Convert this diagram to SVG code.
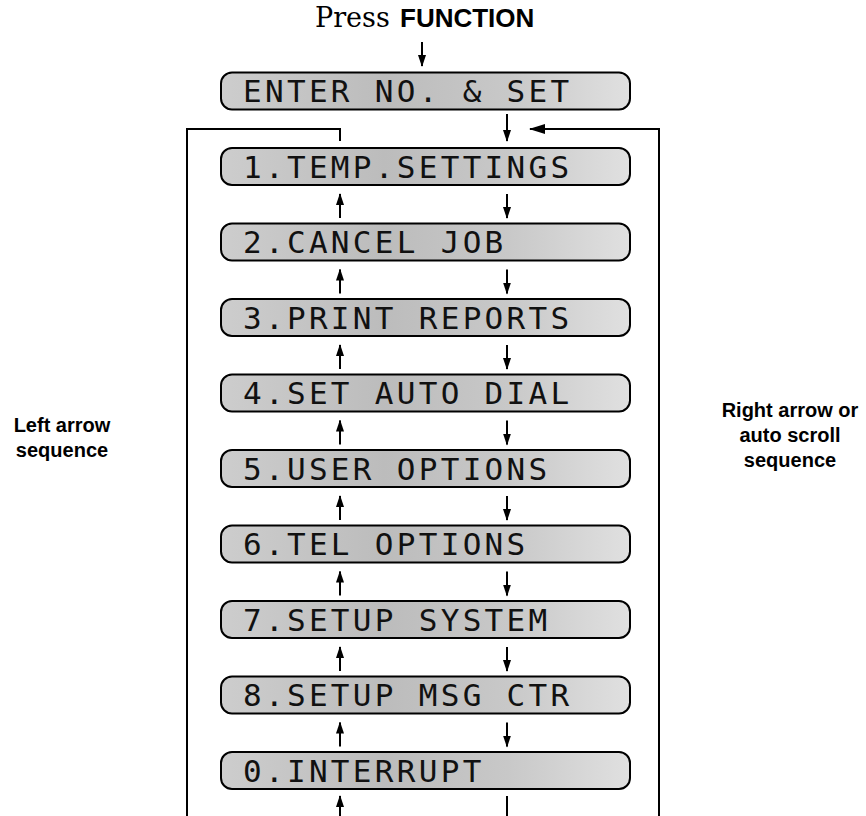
<svg xmlns="http://www.w3.org/2000/svg" width="866" height="816" viewBox="0 0 866 816">
<defs>
<linearGradient id="lcd" x1="0" y1="0" x2="1" y2="0">
<stop offset="0" stop-color="#cdcdcd"/>
<stop offset="0.4" stop-color="#bcbcbc"/>
<stop offset="0.7" stop-color="#c8c8c8"/>
<stop offset="1" stop-color="#e0e0e0"/>
</linearGradient>
<marker id="ah" viewBox="0 0 12 8" refX="11" refY="4" markerWidth="12" markerHeight="8" markerUnits="userSpaceOnUse" orient="auto"><path d="M0,0 L12,4 L0,8 z" fill="#000"/></marker>
<marker id="ahb" viewBox="0 0 16 10" refX="15" refY="5" markerWidth="16" markerHeight="10" markerUnits="userSpaceOnUse" orient="auto"><path d="M0,0 L16,5 L0,10 z" fill="#000"/></marker>
</defs>
<style>
.box{fill:url(#lcd);stroke:#000;stroke-width:2}
.lcd{font-family:"DejaVu Sans Mono","Liberation Mono",monospace;font-size:31px;letter-spacing:3.3px;fill:#111}
.lbl{font-family:"Liberation Sans",Arial,sans-serif;font-size:20px;font-weight:bold;fill:#000;text-anchor:middle}
.ln{fill:none;stroke:#000;stroke-width:2}
.arr{fill:none;stroke:#000;stroke-width:2;marker-end:url(#ah)}
</style>
<g id="title">
<text x="315" y="27" font-family="'DejaVu Serif','Liberation Serif',serif" font-size="27">Press</text>
<text x="400" y="27" font-family="'Liberation Sans',Arial,sans-serif" font-size="26" font-weight="bold">FUNCTION</text>
</g>
<g id="label-left">
<text class="lbl" x="62" y="432">Left arrow</text>
<text class="lbl" x="62" y="457">sequence</text>
</g>
<g id="label-right">
<text class="lbl" x="790" y="417">Right arrow or</text>
<text class="lbl" x="790" y="442">auto scroll</text>
<text class="lbl" x="790" y="467">sequence</text>
</g>
<g id="n-enter"><rect class="box" x="221" y="72.5" width="409" height="37" rx="11"/><text class="lcd" x="243" y="102">ENTER NO. &amp; SET</text></g>
<g id="n1"><rect class="box" x="221" y="148" width="409" height="37" rx="11"/><text class="lcd" x="243" y="177.5">1.TEMP.SETTINGS</text></g>
<g id="n2"><rect class="box" x="221" y="223.5" width="409" height="37" rx="11"/><text class="lcd" x="243" y="253">2.CANCEL JOB</text></g>
<g id="n3"><rect class="box" x="221" y="299" width="409" height="37" rx="11"/><text class="lcd" x="243" y="328.5">3.PRINT REPORTS</text></g>
<g id="n4"><rect class="box" x="221" y="374.5" width="409" height="37" rx="11"/><text class="lcd" x="243" y="404">4.SET AUTO DIAL</text></g>
<g id="n5"><rect class="box" x="221" y="450" width="409" height="37" rx="11"/><text class="lcd" x="243" y="479.5">5.USER OPTIONS</text></g>
<g id="n6"><rect class="box" x="221" y="525.5" width="409" height="37" rx="11"/><text class="lcd" x="243" y="555">6.TEL OPTIONS</text></g>
<g id="n7"><rect class="box" x="221" y="601" width="409" height="37" rx="11"/><text class="lcd" x="243" y="630.5">7.SETUP SYSTEM</text></g>
<g id="n8"><rect class="box" x="221" y="676.5" width="409" height="37" rx="11"/><text class="lcd" x="243" y="706">8.SETUP MSG CTR</text></g>
<g id="n0"><rect class="box" x="221" y="752" width="409" height="37" rx="11"/><text class="lcd" x="243" y="781.5">0.INTERRUPT</text></g>
<g id="connectors">
<line class="arr" x1="422" y1="42" x2="422" y2="66"/>
<line class="arr" x1="507" y1="114" x2="507" y2="141"/>
<path class="ln" d="M187,816 V129 H340 V141"/>
<path class="ln" d="M659,816 V129 H530" marker-end="url(#ahb)"/>
<line class="arr" x1="340" y1="218" x2="340" y2="194"/>
<line class="arr" x1="507" y1="194" x2="507" y2="218"/>
<line class="arr" x1="340" y1="293.5" x2="340" y2="269.5"/>
<line class="arr" x1="507" y1="269.5" x2="507" y2="293.5"/>
<line class="arr" x1="340" y1="369" x2="340" y2="345"/>
<line class="arr" x1="507" y1="345" x2="507" y2="369"/>
<line class="arr" x1="340" y1="444.5" x2="340" y2="420.5"/>
<line class="arr" x1="507" y1="420.5" x2="507" y2="444.5"/>
<line class="arr" x1="340" y1="520" x2="340" y2="496"/>
<line class="arr" x1="507" y1="496" x2="507" y2="520"/>
<line class="arr" x1="340" y1="595.5" x2="340" y2="571.5"/>
<line class="arr" x1="507" y1="571.5" x2="507" y2="595.5"/>
<line class="arr" x1="340" y1="671" x2="340" y2="647"/>
<line class="arr" x1="507" y1="647" x2="507" y2="671"/>
<line class="arr" x1="340" y1="746.5" x2="340" y2="722.5"/>
<line class="arr" x1="507" y1="722.5" x2="507" y2="746.5"/>
<line class="arr" x1="340" y1="816" x2="340" y2="796"/>
<line class="ln" x1="507" y1="796" x2="507" y2="816"/>
</g>
</svg>
